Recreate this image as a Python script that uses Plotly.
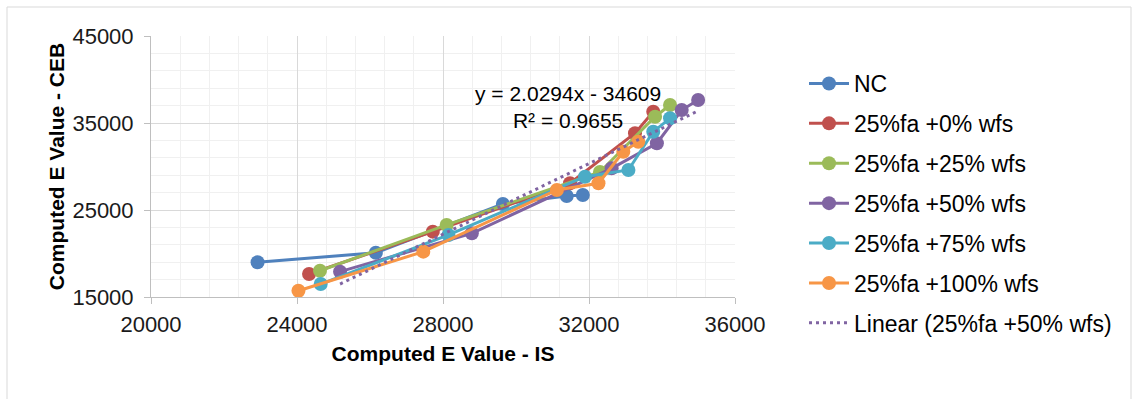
import plotly.graph_objects as go

# ---- data ----
series_names = ["NC", "25%fa +0% wfs", "25%fa +25% wfs", "25%fa +50% wfs",
                "25%fa +75% wfs", "25%fa +100% wfs"]

nc_x = [22920, 26160, 29640, 31390, 31830]
nc_y = [18990, 20090, 25690, 26610, 26720]

fa0_x = [24330, 27720, 31480, 33260, 33760]
fa0_y = [17640, 22510, 28070, 33820, 36300]

fa25_x = [24630, 28100, 32300, 33810, 34220]
fa25_y = [18020, 23280, 29370, 35720, 37070]

fa50_x = [25180, 28790, 32620, 33860, 34540, 34990]
fa50_y = [17910, 22320, 29790, 32670, 36490, 37640]

fa75_x = [24650, 28150, 31890, 33080, 33760, 34220]
fa75_y = [16490, 22130, 28830, 29600, 34000, 35540]

fa100_x = [24040, 27460, 31120, 32260, 32940, 33350]
fa100_y = [15720, 20210, 27300, 28070, 31700, 32850]

trend_slope = 2.0294
trend_intercept = -34609
trend_r2 = 0.9655

x_ticks = [20000, 24000, 28000, 32000, 36000]
y_ticks = [15000, 25000, 35000, 45000]

colors = ["#4F81BD", "#C0504D", "#9BBB59", "#8064A2", "#4BACC6", "#F79646"]

xs = [nc_x, fa0_x, fa25_x, fa50_x, fa75_x, fa100_x]
ys = [nc_y, fa0_y, fa25_y, fa50_y, fa75_y, fa100_y]

FONT = "Liberation Sans, Arial, sans-serif"

fig = go.Figure()
for i, (name, x, y, c) in enumerate(zip(series_names, xs, ys, colors)):
    fig.add_trace(go.Scatter(
        x=x, y=y, name=name, mode="lines+markers",
        line=dict(color=c, width=3),
        marker=dict(color=c, size=14, symbol="circle"),
        legendgroup=f"g{i}",
    ))

# linear trendline of the 50% wfs series, from its stated equation
tx = [min(fa50_x), max(fa50_x)]
ty = [trend_slope * v + trend_intercept for v in tx]
fig.add_trace(go.Scatter(
    x=tx, y=ty, name="Linear (25%fa +50% wfs)", mode="lines",
    line=dict(color="#8064A2", width=3, dash="3px,4px"),
    legendgroup="trend",
))

fig.add_annotation(xref="paper", yref="paper", x=(568 - 151) / 584, y=(297 - 107) / 261,
                   text=f"y = {trend_slope}x - {abs(trend_intercept)}<br>R² = {trend_r2}",
                   showarrow=False, font=dict(family=FONT, size=21, color="#000"),
                   align="center", xanchor="center", yanchor="middle")

# outer chart border
fig.add_shape(type="rect", xref="paper", yref="paper",
              x0=(7 - 151) / 584, x1=(1131 - 151) / 584,
              y0=(297 - 420) / 261, y1=(297 - 7) / 261,
              line=dict(color="#d9d9d9", width=1), layer="below")

axis_common = dict(
    showline=True, linecolor="#bfbfbf", linewidth=1,
    ticks="outside", ticklen=6, tickcolor="#bfbfbf",
    gridcolor="#d9d9d9", gridwidth=1, zeroline=False,
    tickfont=dict(family=FONT, size=22, color="#1a1a1a"),
)

fig.update_xaxes(
    range=[20000, 36000], tickvals=x_ticks, ticktext=[str(v) for v in x_ticks],
    minor=dict(dtick=800, tick0=20000, showgrid=True, gridcolor="#f0f0f0", gridwidth=1),
    title=dict(text="<b>Computed E Value - IS</b>", font=dict(family=FONT, size=21, color="#000"),
               standoff=9),
    ticklabelstandoff=2,
    **axis_common,
)
fig.update_yaxes(
    range=[15000, 45000], tickvals=y_ticks, ticktext=[str(v) for v in y_ticks],
    minor=dict(dtick=2000, tick0=15000, showgrid=True, gridcolor="#f0f0f0", gridwidth=1),
    title=dict(text="<b>Computed E Value - CEB</b>", font=dict(family=FONT, size=21, color="#000"),
               standoff=2),
    ticklabelstandoff=6,
    **axis_common,
)

fig.update_layout(
    width=1138, height=399,
    margin=dict(l=151, r=403, t=36, b=102, autoexpand=False),
    paper_bgcolor="white", plot_bgcolor="white",
    font=dict(family=FONT, size=21, color="#000"),
    showlegend=True,
    legend=dict(
        xref="container", yref="container",
        x=804 / 1138, y=1 - 62 / 399, xanchor="left", yanchor="top",
        font=dict(family=FONT, size=23, color="#000"),
        tracegroupgap=7, itemwidth=40, bgcolor="rgba(0,0,0,0)",
        maxheight=380,
    ),
)

fig.write_html("out.html")
